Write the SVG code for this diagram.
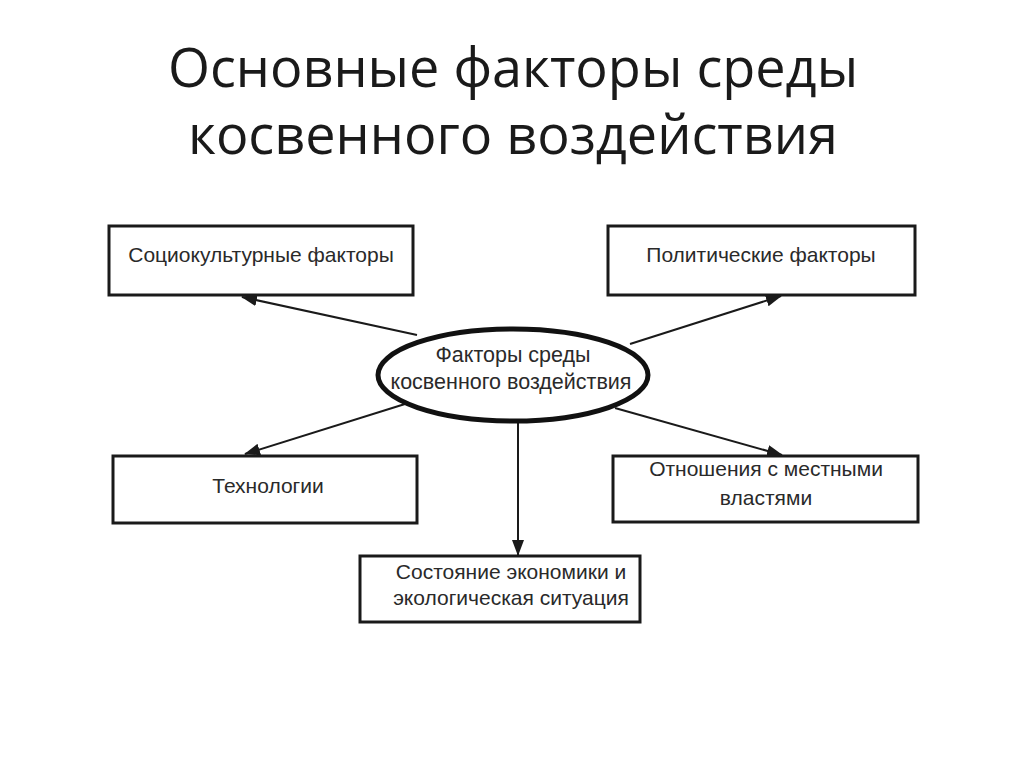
<svg xmlns="http://www.w3.org/2000/svg" width="1024" height="767" viewBox="0 0 1024 767">
<style>
.title{font-family:"Open Sans","Liberation Sans",sans-serif;font-size:54px;fill:#1a1a1a;text-anchor:middle}
.box{fill:#fff;stroke:#1a1a1a;stroke-width:3}
.lbl{font-family:"Liberation Sans","DejaVu Sans",sans-serif;font-size:21px;fill:#2a2a2a;text-anchor:middle}
.conn{stroke:#1a1a1a;stroke-width:2;fill:none;marker-end:url(#ah)}
</style>
<defs>
<marker id="ah" markerUnits="userSpaceOnUse" markerWidth="16" markerHeight="12" refX="15" refY="6" orient="auto">
<path d="M0,0 L16,6 L0,12 Z" fill="#1a1a1a"/>
</marker>
</defs>
<rect width="1024" height="767" fill="#fff"/>
<g id="title">
<text class="title" x="513" y="87">Основные факторы среды</text>
<text class="title" x="513" y="154">косвенного воздействия</text>
</g>
<g id="connectors">
<line class="conn" x1="417" y1="335" x2="242" y2="297"/>
<line class="conn" x1="630" y1="344" x2="781" y2="296"/>
<line class="conn" x1="405" y1="404" x2="245" y2="454"/>
<line class="conn" x1="615" y1="408" x2="782" y2="455"/>
<line class="conn" x1="518" y1="422" x2="518" y2="555"/>
</g>
<g id="center">
<ellipse cx="513" cy="375" rx="135" ry="46" fill="#fff" stroke="#111" stroke-width="5"/>
<text class="lbl" x="513" y="362" style="font-size:21.5px">Факторы среды</text>
<text class="lbl" x="511" y="389" style="font-size:21.5px">косвенного воздействия</text>
</g>
<g id="socio">
<rect class="box" x="109" y="226" width="304" height="69"/>
<text class="lbl" x="261" y="262">Социокультурные факторы</text>
</g>
<g id="politic">
<rect class="box" x="608" y="226" width="307" height="69"/>
<text class="lbl" x="761" y="262">Политические факторы</text>
</g>
<g id="tech">
<rect class="box" x="113" y="456" width="304" height="67"/>
<text class="lbl" x="268" y="493">Технологии</text>
</g>
<g id="local">
<rect class="box" x="613" y="456" width="305" height="66"/>
<text class="lbl" x="766" y="476">Отношения с местными</text>
<text class="lbl" x="766" y="505">властями</text>
</g>
<g id="economy">
<rect class="box" x="360" y="556" width="280" height="66"/>
<text class="lbl" x="511" y="579">Состояние экономики и</text>
<text class="lbl" x="511" y="605">экологическая ситуация</text>
</g>
</svg>
